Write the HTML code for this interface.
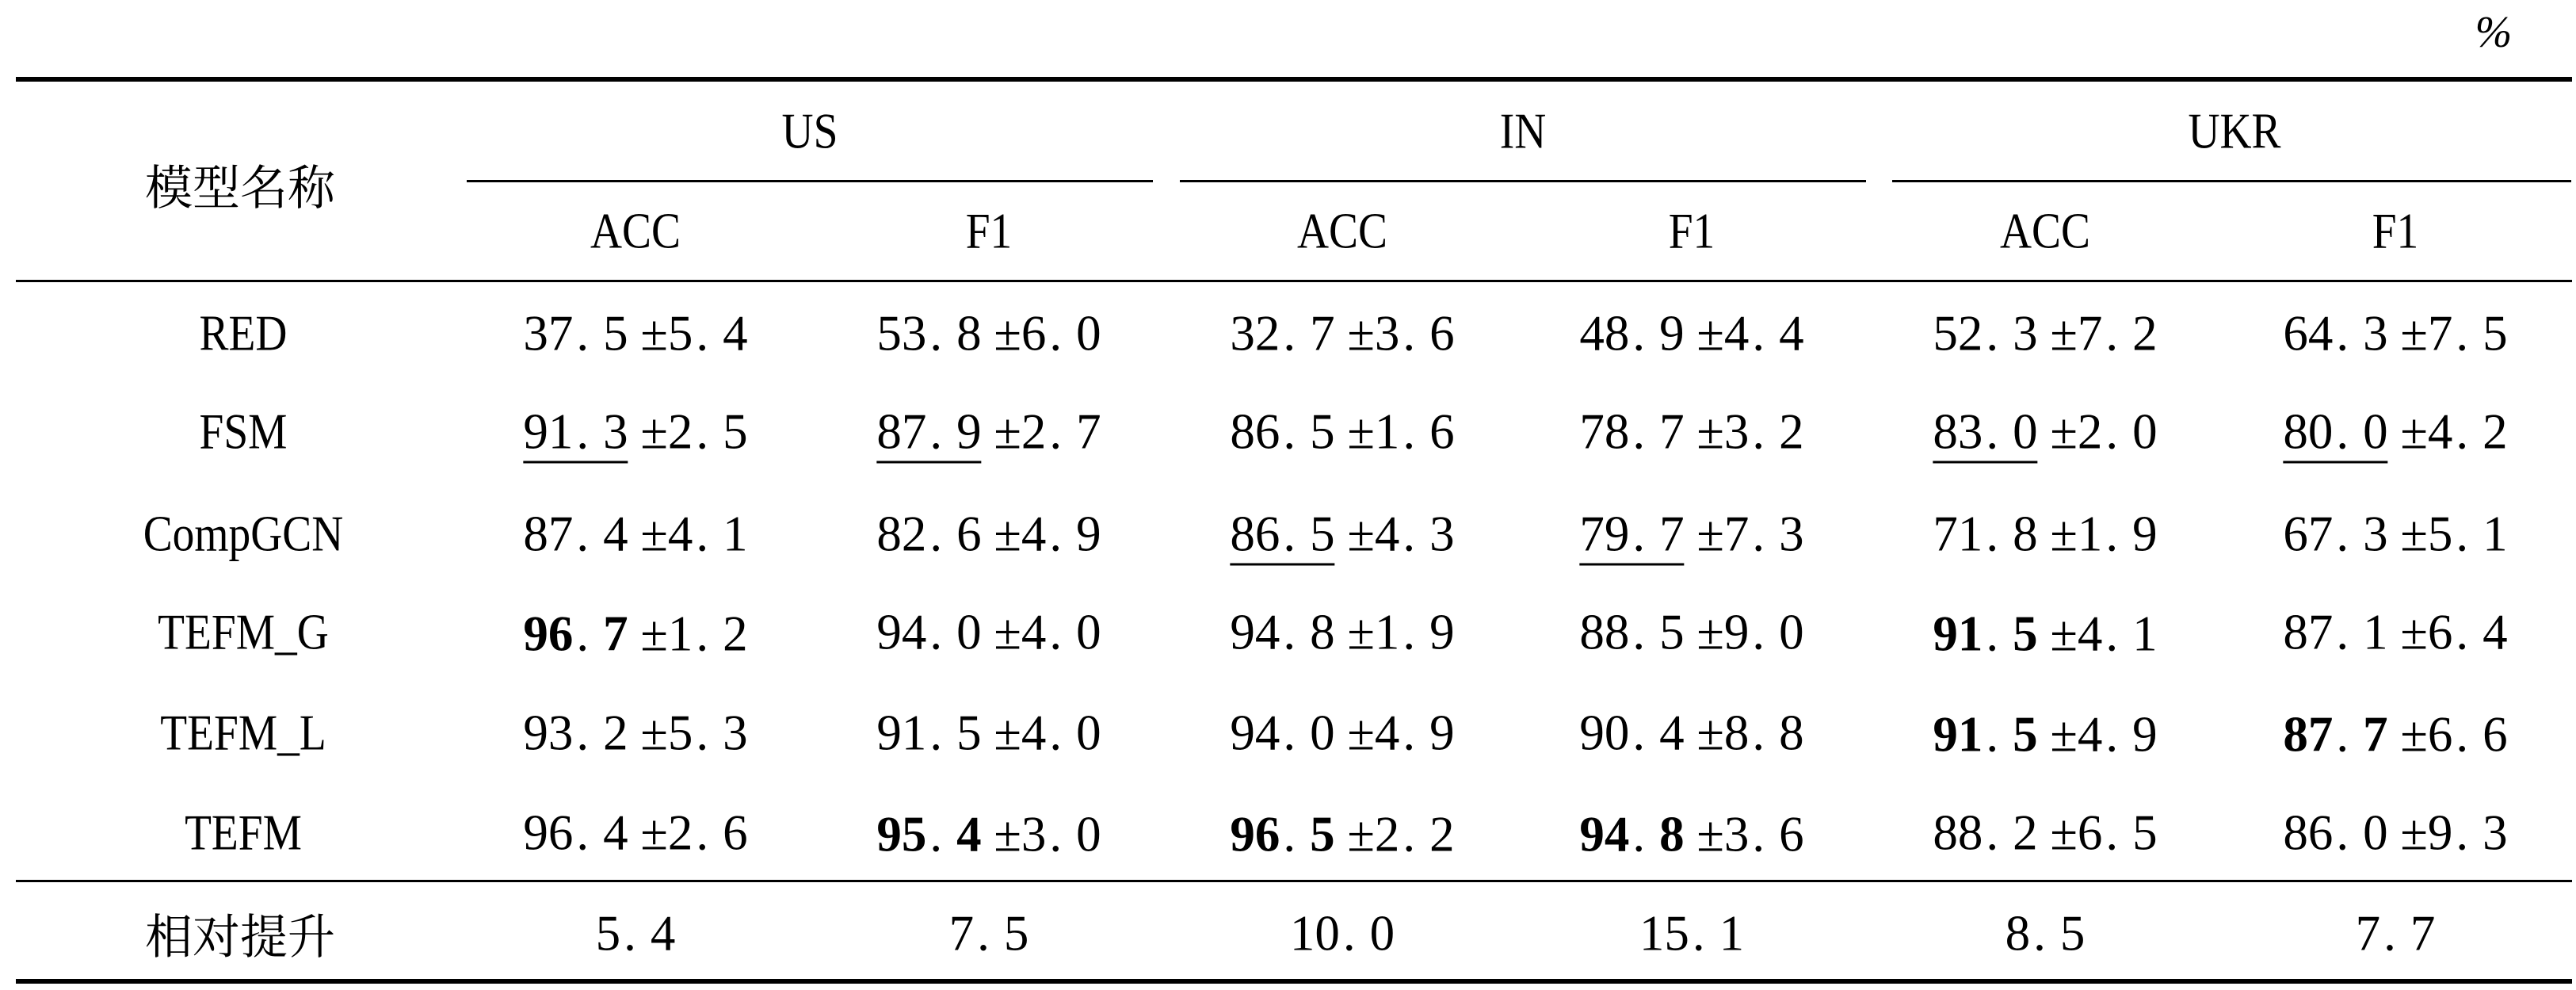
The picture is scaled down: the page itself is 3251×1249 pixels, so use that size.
<!DOCTYPE html>
<html><head><meta charset="utf-8"><style>
html,body{margin:0;padding:0;background:#fff;}
body{width:3251px;height:1249px;position:relative;overflow:hidden;font-family:"Liberation Serif","Noto Serif CJK SC",serif;color:#000;}
.t{position:absolute;transform:translate(-50%,-50%);white-space:nowrap;font-size:63px;line-height:1;}
.n{transform:translate(-50%,-50%) scaleX(0.88);}
.cj{font-family:"Noto Serif CJK SC","Noto Sans CJK SC",serif;font-size:60px;}
.l{position:absolute;background:#000;}
b{font-weight:bold;}
i{font-style:normal;margin-right:18px;margin-left:4px;}
u{text-decoration:none;border-bottom:3px solid #000;padding-bottom:2px;}
</style></head><body>
<div class="t" style="left:3147px;top:41px;font-style:italic;font-size:56px;">%</div>
<div class="l" style="left:20px;top:97px;width:3226px;height:6px;"></div>
<div class="t cj" style="left:303px;top:233px;">模型名称</div>
<div class="t n" style="left:1022px;top:166px;">US</div>
<div class="t n" style="left:1922px;top:166px;">IN</div>
<div class="t n" style="left:2820px;top:166px;">UKR</div>
<div class="l" style="left:589px;top:227px;width:866px;height:3px;"></div>
<div class="l" style="left:1489px;top:227px;width:866px;height:3px;"></div>
<div class="l" style="left:2388px;top:227px;width:857px;height:3px;"></div>
<div class="t n" style="left:802px;top:292px;">ACC</div>
<div class="t n" style="left:1248px;top:292px;">F1</div>
<div class="t n" style="left:1694px;top:292px;">ACC</div>
<div class="t n" style="left:2135px;top:292px;">F1</div>
<div class="t n" style="left:2581px;top:292px;">ACC</div>
<div class="t n" style="left:3023px;top:292px;">F1</div>
<div class="l" style="left:20px;top:353px;width:3226px;height:3px;"></div>

<div class="t n" style="left:307px;top:421px;">RED</div>
<div class="t" style="left:802px;top:421px;">37<i>.</i>5 ±5<i>.</i>4</div>
<div class="t" style="left:1248px;top:421px;">53<i>.</i>8 ±6<i>.</i>0</div>
<div class="t" style="left:1694px;top:421px;">32<i>.</i>7 ±3<i>.</i>6</div>
<div class="t" style="left:2135px;top:421px;">48<i>.</i>9 ±4<i>.</i>4</div>
<div class="t" style="left:2581px;top:421px;">52<i>.</i>3 ±7<i>.</i>2</div>
<div class="t" style="left:3023px;top:421px;">64<i>.</i>3 ±7<i>.</i>5</div>

<div class="t n" style="left:307px;top:545px;">FSM</div>
<div class="t" style="left:802px;top:545px;"><u>91<i>.</i>3</u> ±2<i>.</i>5</div>
<div class="t" style="left:1248px;top:545px;"><u>87<i>.</i>9</u> ±2<i>.</i>7</div>
<div class="t" style="left:1694px;top:545px;">86<i>.</i>5 ±1<i>.</i>6</div>
<div class="t" style="left:2135px;top:545px;">78<i>.</i>7 ±3<i>.</i>2</div>
<div class="t" style="left:2581px;top:545px;"><u>83<i>.</i>0</u> ±2<i>.</i>0</div>
<div class="t" style="left:3023px;top:545px;"><u>80<i>.</i>0</u> ±4<i>.</i>2</div>

<div class="t n" style="left:307px;top:674px;">CompGCN</div>
<div class="t" style="left:802px;top:674px;">87<i>.</i>4 ±4<i>.</i>1</div>
<div class="t" style="left:1248px;top:674px;">82<i>.</i>6 ±4<i>.</i>9</div>
<div class="t" style="left:1694px;top:674px;"><u>86<i>.</i>5</u> ±4<i>.</i>3</div>
<div class="t" style="left:2135px;top:674px;"><u>79<i>.</i>7</u> ±7<i>.</i>3</div>
<div class="t" style="left:2581px;top:674px;">71<i>.</i>8 ±1<i>.</i>9</div>
<div class="t" style="left:3023px;top:674px;">67<i>.</i>3 ±5<i>.</i>1</div>

<div class="t n" style="left:307px;top:798px;">TEFM_G</div>
<div class="t" style="left:802px;top:800px;"><b>96</b><i>.</i><b>7</b> ±1<i>.</i>2</div>
<div class="t" style="left:1248px;top:798px;">94<i>.</i>0 ±4<i>.</i>0</div>
<div class="t" style="left:1694px;top:798px;">94<i>.</i>8 ±1<i>.</i>9</div>
<div class="t" style="left:2135px;top:798px;">88<i>.</i>5 ±9<i>.</i>0</div>
<div class="t" style="left:2581px;top:800px;"><b>91</b><i>.</i><b>5</b> ±4<i>.</i>1</div>
<div class="t" style="left:3023px;top:798px;">87<i>.</i>1 ±6<i>.</i>4</div>

<div class="t n" style="left:307px;top:925px;">TEFM_L</div>
<div class="t" style="left:802px;top:925px;">93<i>.</i>2 ±5<i>.</i>3</div>
<div class="t" style="left:1248px;top:925px;">91<i>.</i>5 ±4<i>.</i>0</div>
<div class="t" style="left:1694px;top:925px;">94<i>.</i>0 ±4<i>.</i>9</div>
<div class="t" style="left:2135px;top:925px;">90<i>.</i>4 ±8<i>.</i>8</div>
<div class="t" style="left:2581px;top:927px;"><b>91</b><i>.</i><b>5</b> ±4<i>.</i>9</div>
<div class="t" style="left:3023px;top:927px;"><b>87</b><i>.</i><b>7</b> ±6<i>.</i>6</div>

<div class="t n" style="left:307px;top:1051px;">TEFM</div>
<div class="t" style="left:802px;top:1051px;">96<i>.</i>4 ±2<i>.</i>6</div>
<div class="t" style="left:1248px;top:1053px;"><b>95</b><i>.</i><b>4</b> ±3<i>.</i>0</div>
<div class="t" style="left:1694px;top:1053px;"><b>96</b><i>.</i><b>5</b> ±2<i>.</i>2</div>
<div class="t" style="left:2135px;top:1053px;"><b>94</b><i>.</i><b>8</b> ±3<i>.</i>6</div>
<div class="t" style="left:2581px;top:1051px;">88<i>.</i>2 ±6<i>.</i>5</div>
<div class="t" style="left:3023px;top:1051px;">86<i>.</i>0 ±9<i>.</i>3</div>

<div class="l" style="left:20px;top:1110px;width:3226px;height:3px;"></div>
<div class="t cj" style="left:303px;top:1178px;">相对提升</div>
<div class="t" style="left:802px;top:1178px;">5<i>.</i>4</div>
<div class="t" style="left:1248px;top:1178px;">7<i>.</i>5</div>
<div class="t" style="left:1694px;top:1178px;">10<i>.</i>0</div>
<div class="t" style="left:2135px;top:1178px;">15<i>.</i>1</div>
<div class="t" style="left:2581px;top:1178px;">8<i>.</i>5</div>
<div class="t" style="left:3023px;top:1178px;">7<i>.</i>7</div>
<div class="l" style="left:20px;top:1235px;width:3226px;height:6px;"></div>
</body></html>
